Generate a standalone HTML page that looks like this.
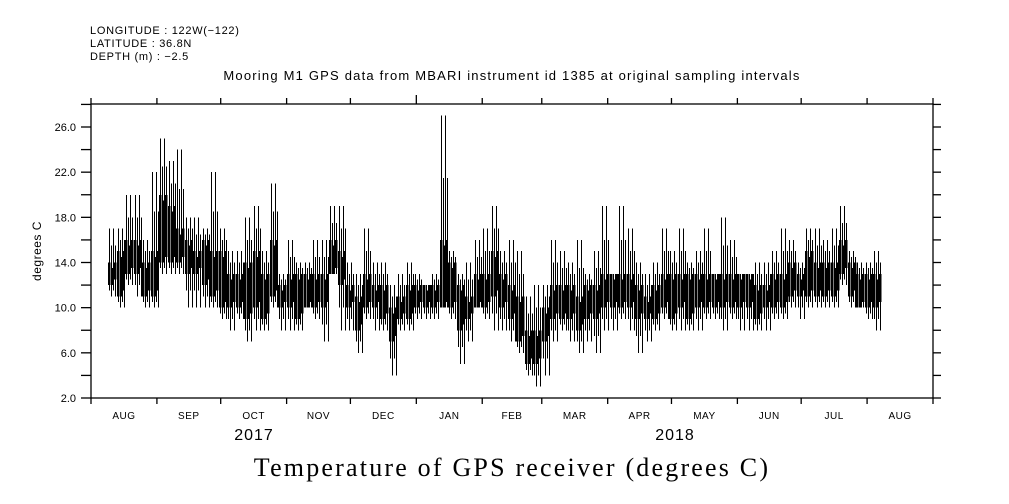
<!DOCTYPE html>
<html><head><meta charset="utf-8"><style>
body{margin:0;background:#fff}
svg{display:block}
text{font-family:"Liberation Sans",sans-serif;fill:#000}
</style></head><body>
<svg id="chart" width="1009" height="504" viewBox="0 0 1009 504" xmlns="http://www.w3.org/2000/svg">
<g font-size="11" letter-spacing="0.7">
<text x="90" y="34">LONGITUDE : 122W(−122)</text>
<text x="90" y="47">LATITUDE : 36.8N</text>
<text x="90" y="60">DEPTH (m) : −2.5</text>
</g>
<text x="512" y="80" text-anchor="middle" font-size="13" letter-spacing="1.2">Mooring M1 GPS data from MBARI instrument id 1385 at original sampling intervals</text>
<text transform="translate(41,251) rotate(-90)" text-anchor="middle" font-size="12" letter-spacing="0.5">degrees C</text>
<text x="254" y="440" text-anchor="middle" font-size="16" letter-spacing="1">2017</text>
<text x="675" y="440" text-anchor="middle" font-size="16" letter-spacing="1">2018</text>
<text x="512" y="476" text-anchor="middle" font-size="26" letter-spacing="2.2" style="font-family:'Liberation Serif',serif">Temperature of GPS receiver (degrees C)</text>
<g id="axes"></g>
<g id="data" shape-rendering="crispEdges"></g>
</svg>
<script>
const months = ["AUG","SEP","OCT","NOV","DEC","JAN","FEB","MAR","APR","MAY","JUN","JUL","AUG"];
const monthDays = [31,30,31,30,31,31,28,31,30,31,30,31,31];
const yTickLabels = ["2.0","6.0","10.0","14.0","18.0","22.0","26.0"];
const startDay = 8;
const bucketDays = 4;
const hiVals = [17,17,20,20,16,22,25,23,24,18,18,17,22,17,15,15,18,19,15,21,13,16,14,14,16,16,19,19,14,13,17,14,14,12,13,14,13,
12,13,27,15,13,14,16,17,19,15,16,15,11,12,12,16,15,14,16,13,15,19,13,19,17,14,13,14,17,
15,17,14,15,17,13,18,16,13,13,14,14,15,17,16,14,17,17,16,17,19,15,14,14,15];
const loVals = [11,10,12,11,10,10,13,13,13,10,10,10,10,9,8,9,7,8,8,10,8,8,8,10,9,7,13,8,8,6,9,8,8,4,8,8,9,
9,9,10,9,5,7,10,9,8,8,7,6,4,3,4,7,8,7,6,7,6,8,8,9,8,6,7,8,9,
8,8,8,8,9,9,8,9,8,8,8,8,9,9,10,9,10,10,10,10,12,10,10,9,8];
const bandHi = [14,15,16,16,14,15,20,19,17,16,15,16,15,15,13,13,14,15,13,16,12,13,13,13,13,13,16,15,12,11,13,12,12,10,11,12,12,
12,12,16,14,12,11,13,13,15,13,12,11,8,8,10,12,12,12,11,12,12,13,13,13,13,12,11,12,13,
13,13,13,13,13,13,13,13,13,13,12,12,13,13,14,13,15,14,14,14,16,14,13,13,13];
const bandLo = [12,11,13,13,11,11,14,14,14,13,13,12,11,10,10,10,9,10,9,11,10,10,9,10,10,10,13,12,10,8,10,10,9,7,9,9,10,
10,10,10,10,8,9,10,10,11,10,9,7,5,5,7,9,9,9,8,9,9,10,10,10,10,9,9,9,10,
9,10,9,10,10,10,10,10,10,10,9,10,10,10,11,11,11,11,11,11,13,11,10,10,10];

const NS = "http://www.w3.org/2000/svg";
const X0 = 91, X1 = 933, Y0 = 104, Y1 = 398;
const totalDays = monthDays.reduce((a,b)=>a+b,0);
const xs = d => X0 + d * (X1 - X0) / totalDays;
const ys = t => Y1 - (t - 2) * (Y1 - 127) / 24;
const axes = document.getElementById('axes');
const dataG = document.getElementById('data');
function mk(tag, attrs, parent){const e=document.createElementNS(NS,tag);for(const k in attrs)e.setAttribute(k,attrs[k]);parent.appendChild(e);return e;}

const frame = mk('rect',{x:X0,y:Y0,width:X1-X0,height:Y1-Y0,fill:'none',stroke:'#000','stroke-width':1.3},axes);



let d = 0;
for (let i = 0; i <= months.length; i++) {
  const x = xs(d);
  const long = (i === 5);
  const tb = mk('line',{x1:x,x2:x,y1:Y1,y2:Y1+6,stroke:'#000','stroke-width':1.3},axes);
  
  
  const tt = mk('line',{x1:x,x2:x,y1:Y0,y2:Y0-(long?9:6),stroke:'#000','stroke-width':1.3},axes);
  
  
  if (i < months.length) {
    const lab = mk('text',{x:xs(d + monthDays[i]/2),y:419,'text-anchor':'middle','font-size':10,'letter-spacing':0.5},axes);
    lab.textContent = months[i];
    
    
    d += monthDays[i];
  }
}
for (let t = 2; t <= 28; t += 2) {
  const y = ys(t);
  if (y < Y0) break;
  const tl = mk('line',{x1:X0-10,x2:X0,y1:y,y2:y,stroke:'#000','stroke-width':1.3},axes);
  
  
  const tr = mk('line',{x1:X1,x2:X1+8,y1:y,y2:y,stroke:'#000','stroke-width':1.3},axes);
  
  
}
yTickLabels.forEach(s => {
  const v = parseFloat(s);
  const lab = mk('text',{x:76,y:ys(v)+4,'text-anchor':'end','font-size':11},axes);
  lab.textContent = s;
  
  
});

const bw = bucketDays * (X1 - X0) / totalDays;
hiVals.forEach((hi, i) => {
  const x = xs(startDay + i * bucketDays);
  const strips = [[0,2.5],[3,2],[5.6,2.4]];
  strips.forEach((s, k) => {
    const bt = bandHi[i] - (k === 1 ? 0.5 : 0);
    const bb = bandLo[i] + (k === 2 ? 0.5 : 0);
    const band = mk('rect',{x:Math.round(x+s[0]),y:ys(bt),width:s[1],height:ys(bb)-ys(bt),fill:'#000'},dataG);
    
    
  });
  const offs = [1, 3, 5, 7];
  offs.forEach((o, k) => {
    const top = (k % 2 === 0) ? hi : (bandHi[i] + hi) / 2;
    const bot = (k % 2 === 1) ? loVals[i] : (bandLo[i] + loVals[i]) / 2;
    const ln = mk('rect',{x:Math.round(x+o),y:ys(top),width:1,height:ys(bot)-ys(top),fill:'#000'},dataG);
    
    
  });
});
</script>
</body></html>
